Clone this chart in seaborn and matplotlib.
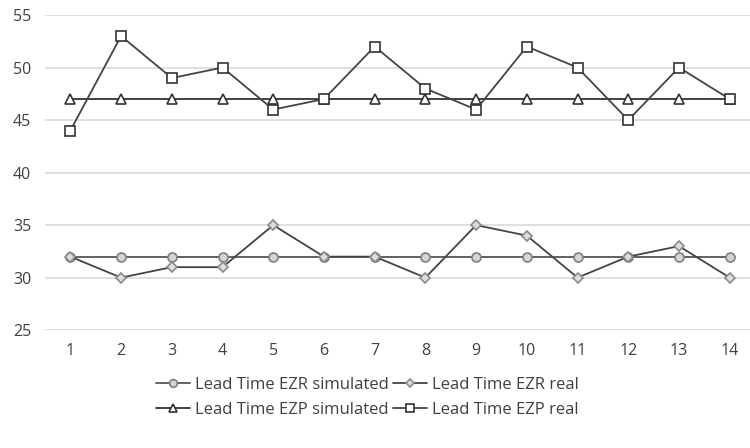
import matplotlib
matplotlib.use("Agg")
import matplotlib.pyplot as plt
import seaborn as sns
import pandas as pd

periods = list(range(1, 15))
ezr_sim = [32] * 14
ezr_real = [32, 30, 31, 31, 35, 32, 32, 30, 35, 34, 30, 32, 33, 30]
ezp_sim = [47] * 14
ezp_real = [44, 53, 49, 50, 46, 47, 52, 48, 46, 52, 50, 45, 50, 47]
labels = ["Lead Time EZR simulated", "Lead Time EZR real",
          "Lead Time EZP simulated", "Lead Time EZP real"]
yticks = [25, 30, 35, 40, 45, 50, 55]

sns.set_style("white")
plt.rcParams['font.family'] = ['Open Sans', 'DejaVu Sans']

fig = plt.figure(figsize=(7.5, 4.48), dpi=100)
ax = fig.add_axes([0.06, 0.263, 0.94, 0.7035])

styles = [
    dict(marker="o", markersize=6.5, markerfacecolor="#d4d4d4", markeredgecolor="#7f7f7f", color="#555555"),
    dict(marker="D", markersize=5, markerfacecolor="#dedede", markeredgecolor="#8a8a8a", color="#444444"),
    dict(marker="^", markersize=6.5, markerfacecolor="white", markeredgecolor="#333333", color="#333333"),
    dict(marker="s", markersize=7, markerfacecolor="white", markeredgecolor="#333333", color="#444444"),
]
series = [ezr_sim, ezr_real, ezp_sim, ezp_real]
handles = []
for vals, lab, st in zip(series, labels, styles):
    df = pd.DataFrame({"period": periods, "value": vals})
    sns.lineplot(data=df, x="period", y="value", ax=ax, linewidth=1.3,
                 markeredgewidth=1.2, label=lab, legend=False, **st)
    handles.append(ax.lines[-1])

ax.set_xlim(0.5, 14.4)
ax.set_ylim(25, 55)
ax.set_yticks(yticks)
ax.set_xticks(periods)
ax.grid(axis="y", color="#d9d9d9", linewidth=1.2)
ax.set_axisbelow(True)
for s in ax.spines.values():
    s.set_visible(False)
ax.set_xlabel("")
ax.set_ylabel("")
ax.tick_params(axis="both", length=0, labelsize=11.5, labelcolor="#404040")
ax.tick_params(axis="x", pad=9)
ax.tick_params(axis="y", pad=10)

order = [0, 2, 1, 3]
fig.legend([handles[i] for i in order], [labels[i] for i in order],
           ncol=2, loc="center", bbox_to_anchor=(0.49, 0.113), frameon=False,
           fontsize=12, labelcolor="#404040", handlelength=2.0, markerscale=0.85,
           handletextpad=0.3, columnspacing=0.3, labelspacing=0.55)

fig.savefig("out.png", dpi=100)
